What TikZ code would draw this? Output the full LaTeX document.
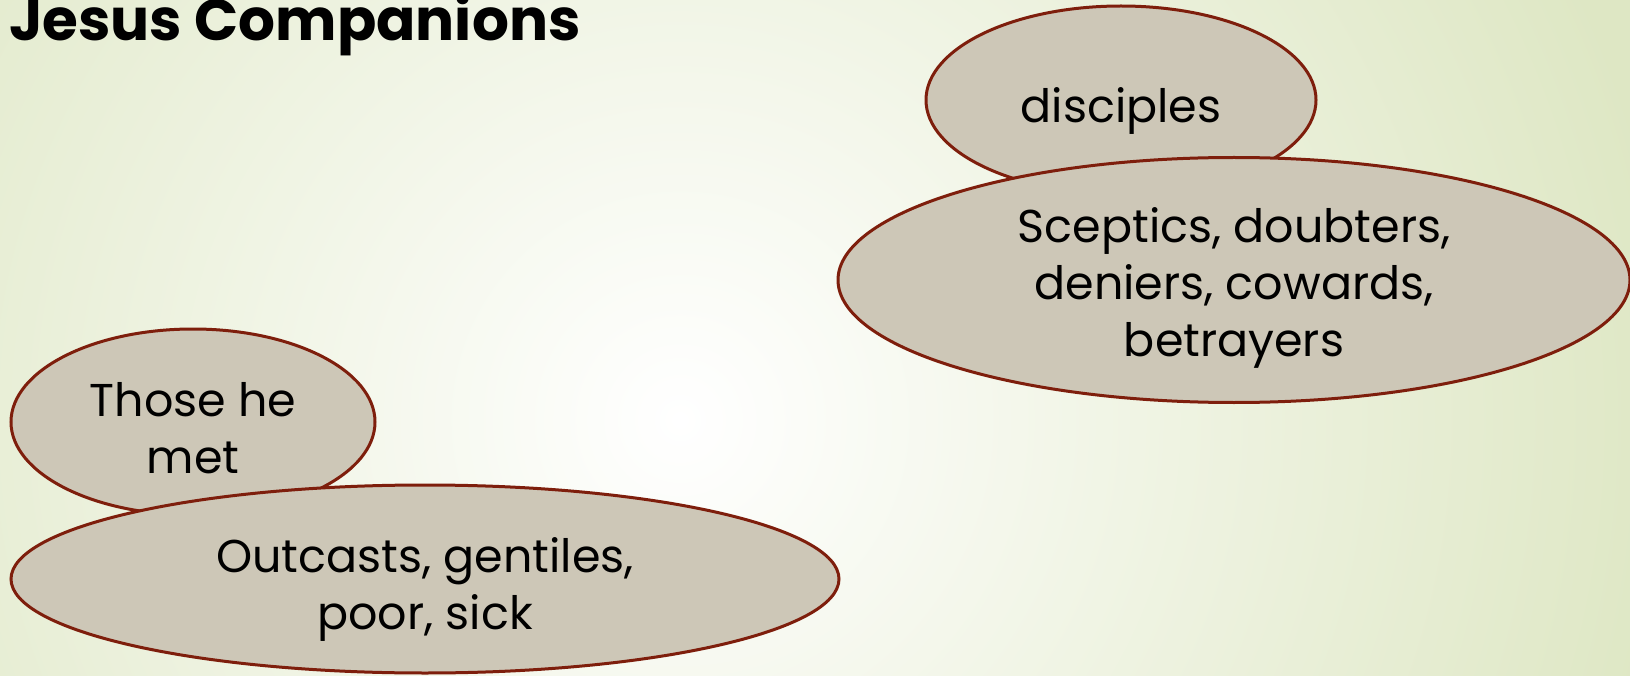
\documentclass[tikz,border=0pt]{standalone}
\usepackage{fontspec}
\setmainfont{Poppins}
\usetikzlibrary{shapes.geometric}
\definecolor{bgouter}{HTML}{DEE7C4}
\definecolor{blobfill}{HTML}{CDC7B7}
\definecolor{blobline}{HTML}{7E1E0C}
\tikzset{
  blob/.style={ellipse, draw=blobline, fill=blobfill, line width=3pt, inner sep=0pt},
  blobtext/.style={align=center, text=black, inner sep=0pt, font=\fontsize{46}{57}\selectfont},
}
\begin{document}
\begin{tikzpicture}[x=1pt,y=-1pt]
\useasboundingbox (0,0) rectangle (1630,676);
\begin{scope}
  \clip (0,0) rectangle (1630,676);
  \shade[inner color=white, outer color=bgouter] (-320,-580) rectangle (1680,1420);
\end{scope}
\node[anchor=base west, inner sep=0pt, font=\fontsize{58}{64}\selectfont\bfseries] (title) at (9,41) {Jesus Companions};
% top right group
\node[blob, minimum width=390, minimum height=188] (disc) at (1121,100) {};
\node[blobtext] (discT) at (1121,111) {disciples};
\node[blob, minimum width=792, minimum height=245] (scep) at (1234,280) {};
\node[blobtext] (scepT) at (1234,288) {Sceptics, doubters,\\deniers, cowards,\\betrayers};
% bottom left group
\node[blob, minimum width=364, minimum height=186] (met) at (193,422) {};
\node[blobtext] (metT) at (193,428) {Those he\\met};
\node[blob, minimum width=828, minimum height=188] (out) at (425,579) {};
\node[blobtext] (outT) at (425,589) {Outcasts, gentiles,\\poor, sick};
\end{tikzpicture}
\end{document}
